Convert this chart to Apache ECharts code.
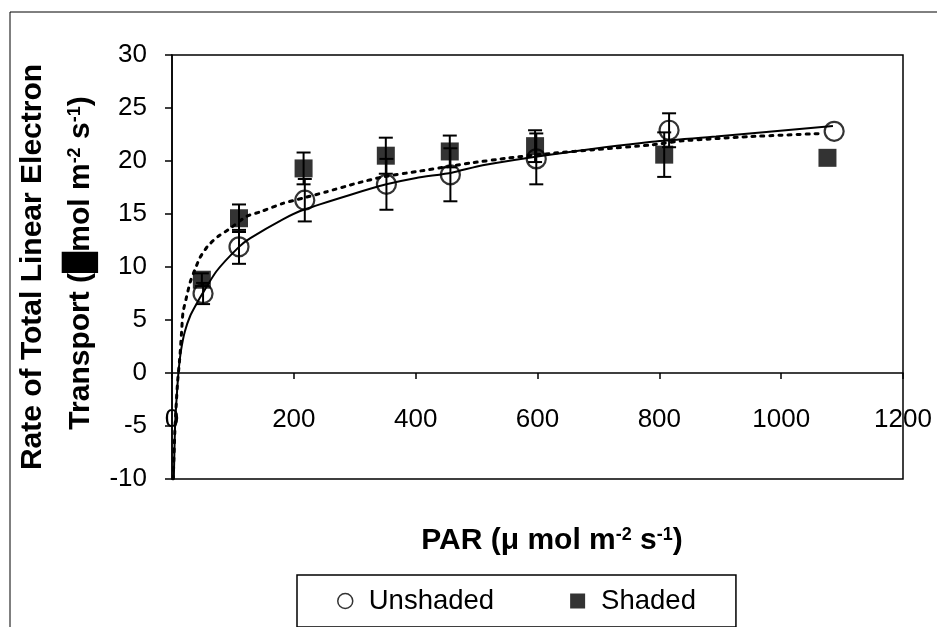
<!DOCTYPE html>
<html>
<head>
<meta charset="utf-8">
<script src="https://cdn.jsdelivr.net/npm/echarts@6/dist/echarts.min.js"></script>
<style>
  html, body { margin: 0; padding: 0; background: #fff; }
  #chart { width: 937px; height: 627px; }
</style>
</head>
<body>
<div id="chart"></div>
<script>
// PAR response of linear electron transport, unshaded vs shaded leaves
const xTicks = [0, 200, 400, 600, 800, 1000, 1200];
const yTicks = [-10, -5, 0, 5, 10, 15, 20, 25, 30];

// Measured means and error-bar half widths
const unshadedPar = [51, 110, 218, 352, 457, 598, 816, 1087];
const unshadedRate = [7.5, 11.9, 16.3, 17.8, 18.7, 20.2, 22.9, 22.8];
const unshadedErr = [1.0, 1.6, 2.0, 2.4, 2.5, 2.4, 1.6, 0];

const shadedPar = [49, 110, 216, 351, 456, 596, 808, 1076];
const shadedRate = [8.8, 14.6, 19.3, 20.5, 20.9, 21.4, 20.6, 20.3];
const shadedErr = [0.6, 1.3, 1.5, 1.7, 1.5, 1.5, 2.1, 0];

// Fitted trend curves (solid: unshaded, dotted: shaded)
const unshadedFitPar = [3, 5, 8, 11, 15, 21, 30, 41, 49, 73, 110, 128, 182, 216, 292, 352, 401, 459, 510, 620, 784, 893, 1085];
const unshadedFitRate = [-10, -5, -2, 0.3, 2.2, 3.9, 5.4, 6.6, 7.4, 9.6, 11.9, 12.7, 14.5, 15.4, 16.8, 17.8, 18.4, 18.9, 19.6, 20.6, 21.8, 22.3, 23.3];

const shadedFitPar = [2, 5, 9, 13, 16, 18, 24, 30, 38, 46, 59, 76, 92, 123, 145, 182, 215, 254, 303, 346, 401, 456, 489, 554, 620, 700, 784, 838, 948, 1068];
const shadedFitRate = [-10, -5, -1, 1.6, 4.1, 5.7, 7.2, 8.6, 9.8, 10.9, 12.0, 12.9, 13.5, 14.8, 15.2, 16.0, 16.5, 17.1, 17.9, 18.5, 19.0, 19.5, 19.8, 20.3, 20.7, 21.1, 21.5, 21.9, 22.3, 22.6];

const FONT = 'Arial, "Liberation Sans", sans-serif';

function pairs(xs, ys) { return xs.map((x, i) => [x, ys[i]]); }
function bars(xs, ys, es) {
  return xs.map((x, i) => [x, ys[i] - es[i], ys[i] + es[i], es[i]]);
}

function renderErrorBar(params, api) {
  if (api.value(3) <= 0) return null;
  const x = api.value(0);
  const lo = api.coord([x, api.value(1)]);
  const hi = api.coord([x, api.value(2)]);
  const cap = 7;
  const st = { stroke: '#000', lineWidth: 2 };
  return {
    type: 'group',
    children: [
      { type: 'line', shape: { x1: lo[0], y1: lo[1], x2: hi[0], y2: hi[1] }, style: st },
      { type: 'line', shape: { x1: lo[0] - cap, y1: lo[1], x2: lo[0] + cap, y2: lo[1] }, style: st },
      { type: 'line', shape: { x1: hi[0] - cap, y1: hi[1], x2: hi[0] + cap, y2: hi[1] }, style: st }
    ]
  };
}

const chart = echarts.init(document.getElementById('chart'), null, { renderer: 'canvas' });

const titleRich = {
  b: { fontFamily: FONT, fontSize: 30, fontWeight: 'bold', color: '#000' },
  s: { fontFamily: FONT, fontSize: 18, fontWeight: 'bold', color: '#000', verticalAlign: 'top' }
};

chart.setOption({
  animation: false,
  backgroundColor: '#fff',
  grid: {
    left: 172, right: 34, top: 55, bottom: 148,
    show: true, borderColor: '#000', borderWidth: 1.5,
    outerBoundsMode: 'none'
  },
  xAxis: {
    type: 'value',
    min: xTicks[0], max: xTicks[xTicks.length - 1], interval: 200,
    axisLine: { show: true, onZero: true, lineStyle: { color: '#000', width: 1.5 } },
    axisTick: { show: true, length: 6, lineStyle: { color: '#000', width: 1.5 } },
    axisLabel: { color: '#000', fontFamily: FONT, fontSize: 26, margin: -72, formatter: v => String(v) },
    splitLine: { show: false }
  },
  yAxis: {
    type: 'value',
    min: yTicks[0], max: yTicks[yTicks.length - 1], interval: 5,
    axisLine: { show: true, lineStyle: { color: '#000', width: 1.5 } },
    axisTick: { show: true, length: 7, lineStyle: { color: '#000', width: 1.5 } },
    axisLabel: { color: '#000', fontFamily: FONT, fontSize: 26, margin: 25, formatter: v => String(v) },
    splitLine: { show: false }
  },
  legend: {
    left: 297, top: 575,
    orient: 'horizontal',
    borderColor: '#000', borderWidth: 1.5,
    padding: [12, 40, 12, 40],
    itemGap: 76,
    itemWidth: 15, itemHeight: 15,
    textStyle: { color: '#000', fontFamily: FONT, fontSize: 27.5, padding: [0, 0, 0, 11] },
    data: [
      { name: 'Unshaded', icon: 'circle', itemStyle: { color: '#fff', borderColor: '#000', borderWidth: 1.5 } },
      { name: 'Shaded', icon: 'rect', itemStyle: { color: '#000' } }
    ]
  },
  graphic: [
    { type: 'rect', shape: { x: 10, y: 12, width: 1000, height: 700 }, style: { fill: 'none', stroke: '#000', lineWidth: 1 }, silent: true, z: 100 },
    {
      type: 'text', x: 552, y: 541, z: 100,
      style: {
        text: '{b|PAR (μ mol m}{s|-2}{b| s}{s|-1}{b|)}',
        rich: titleRich, align: 'center', verticalAlign: 'middle'
      }
    },
    {
      type: 'text', x: 33, y: 267, rotation: Math.PI / 2, z: 100,
      style: {
        text: '{b|Rate of Total Linear Electron}',
        rich: titleRich, align: 'center', verticalAlign: 'middle'
      }
    },
    {
      type: 'text', x: 81, y: 263, rotation: Math.PI / 2, z: 100,
      style: {
        text: '{b|Transport (█mol m}{s|-2}{b| s}{s|-1}{b|)}',
        rich: titleRich, align: 'center', verticalAlign: 'middle'
      }
    }
  ],
  series: [
    {
      name: 'Unshaded fit', type: 'line', data: pairs(unshadedFitPar, unshadedFitRate),
      showSymbol: false, smooth: 0.2, z: 2,
      lineStyle: { color: '#000', width: 2 }
    },
    {
      name: 'Shaded fit', type: 'line', data: pairs(shadedFitPar, shadedFitRate),
      showSymbol: false, smooth: 0.2, z: 2,
      lineStyle: { color: '#000', width: 3, type: [3, 6], cap: 'round' }
    },
    {
      name: 'Unshaded error', type: 'custom', renderItem: renderErrorBar, z: 3,
      data: bars(unshadedPar, unshadedRate, unshadedErr)
    },
    {
      name: 'Shaded error', type: 'custom', renderItem: renderErrorBar, z: 3,
      data: bars(shadedPar, shadedRate, shadedErr)
    },
    {
      name: 'Unshaded', type: 'scatter', data: pairs(unshadedPar, unshadedRate),
      symbol: 'circle', symbolSize: 19, z: 4,
      itemStyle: { color: 'rgba(0,0,0,0)', borderColor: '#000', borderWidth: 2.2 }
    },
    {
      name: 'Shaded', type: 'scatter', data: pairs(shadedPar, shadedRate),
      symbol: 'rect', symbolSize: 18, z: 5,
      itemStyle: { color: '#000' }
    }
  ]
});
</script>
</body>
</html>
